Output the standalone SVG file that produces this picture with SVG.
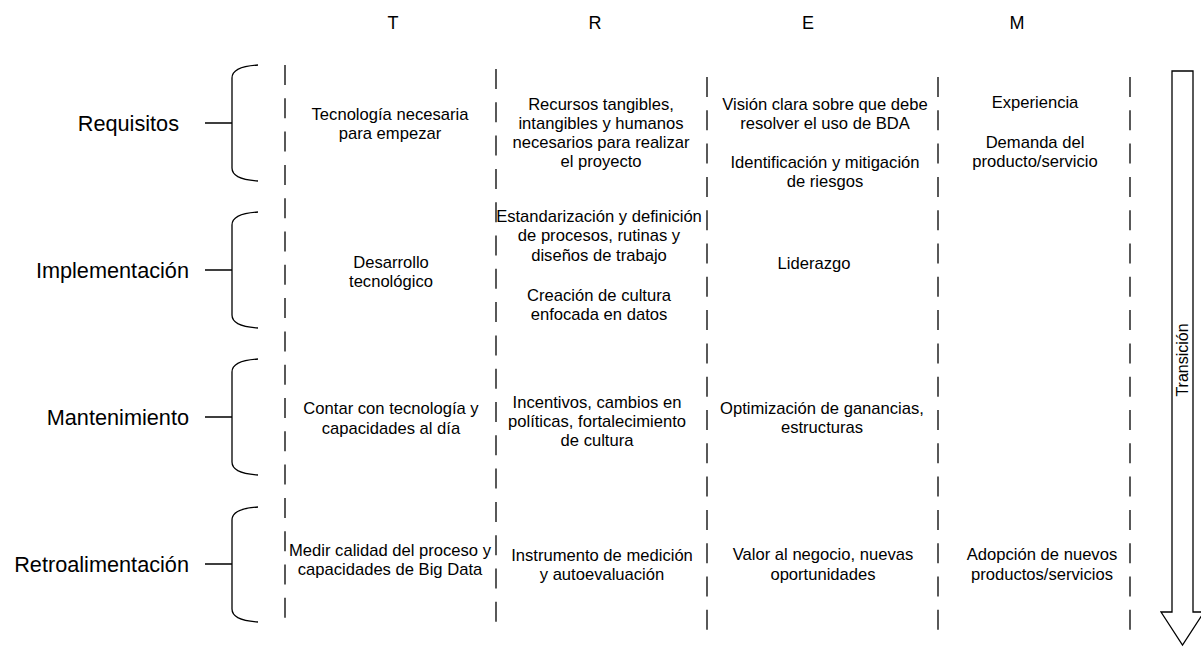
<svg xmlns="http://www.w3.org/2000/svg" width="1201" height="647" viewBox="0 0 1201 647">
<style>
text{font-family:"Liberation Sans",Arial,sans-serif;fill:#000}
.hd{font-size:18px;text-anchor:middle}
.lb{font-size:21.7px;text-anchor:end}
.c{font-size:16.6px;text-anchor:middle}
.ln{stroke:#000;stroke-width:1.3;fill:none}
.dash{stroke:#000;stroke-width:1.3;stroke-dasharray:20 13.3;fill:none}
</style>
<rect width="1201" height="647" fill="#fff"/>
<g id="headers">
<text class="hd" x="393" y="29">T</text>
<text class="hd" x="595" y="29">R</text>
<text class="hd" x="808" y="29">E</text>
<text class="hd" x="1017" y="29">M</text>
</g>
<g id="columns">
<line class="dash" x1="285" y1="65" x2="285" y2="618"/>
<line class="dash" x1="496" y1="69" x2="496" y2="622"/>
<line class="dash" x1="707" y1="77" x2="707" y2="630"/>
<line class="dash" x1="938" y1="77" x2="938" y2="630"/>
<line class="dash" x1="1130" y1="77" x2="1130" y2="630"/>
</g>
<g id="connectors">
<path class="ln" d="M258,65 C242,66 232,70 232,78 V168 C232,176 242,180 258,181 M205,123 H232"/>
<path class="ln" d="M258,212 C242,213 232,217 232,225 V315 C232,323 242,327 258,328 M205,270 H232"/>
<path class="ln" d="M258,359 C242,360 232,364 232,372 V462 C232,470 242,474 258,475 M205,417 H232"/>
<path class="ln" d="M258,507 C242,508 232,512 232,520 V609 C232,617 242,621 258,622 M205,564 H232"/>
</g>
<g id="label-requisitos"><text class="lb" x="179" y="131">Requisitos</text></g>
<g id="label-implementacion"><text class="lb" x="189" y="278">Implementación</text></g>
<g id="label-mantenimiento"><text class="lb" x="189" y="425">Mantenimiento</text></g>
<g id="label-retroalimentacion"><text class="lb" x="189" y="572">Retroalimentación</text></g>
<g id="req-T"><text class="c" x="390" y="120">Tecnología necesaria</text><text class="c" x="390" y="139">para empezar</text></g>
<g id="req-R"><text class="c" x="601" y="110">Recursos tangibles,</text><text class="c" x="601" y="129">intangibles y humanos</text><text class="c" x="601" y="148">necesarios para realizar</text><text class="c" x="601" y="167">el proyecto</text></g>
<g id="req-E"><text class="c" x="825" y="110">Visión clara sobre que debe</text><text class="c" x="825" y="129">resolver el uso de BDA</text><text class="c" x="825" y="168">Identificación y mitigación</text><text class="c" x="825" y="187">de riesgos</text></g>
<g id="req-M"><text class="c" x="1035" y="108">Experiencia</text><text class="c" x="1035" y="148">Demanda del</text><text class="c" x="1035" y="167">producto/servicio</text></g>
<g id="imp-T"><text class="c" x="391" y="268">Desarrollo</text><text class="c" x="391" y="287">tecnológico</text></g>
<g id="imp-R"><text class="c" x="599" y="222">Estandarización y definición</text><text class="c" x="599" y="241">de procesos, rutinas y</text><text class="c" x="599" y="261">diseños de trabajo</text><text class="c" x="599" y="301">Creación de cultura</text><text class="c" x="599" y="320">enfocada en datos</text></g>
<g id="imp-E"><text class="c" x="814" y="269">Liderazgo</text></g>
<g id="man-T"><text class="c" x="391" y="414">Contar con tecnología y</text><text class="c" x="391" y="434">capacidades al día</text></g>
<g id="man-R"><text class="c" x="597" y="408">Incentivos, cambios en</text><text class="c" x="597" y="427">políticas, fortalecimiento</text><text class="c" x="597" y="446">de cultura</text></g>
<g id="man-E"><text class="c" x="822" y="414">Optimización de ganancias,</text><text class="c" x="822" y="433">estructuras</text></g>
<g id="ret-T"><text class="c" x="390" y="556">Medir calidad del proceso y</text><text class="c" x="390" y="575">capacidades de Big Data</text></g>
<g id="ret-R"><text class="c" x="602" y="561">Instrumento de medición</text><text class="c" x="602" y="580">y autoevaluación</text></g>
<g id="ret-E"><text class="c" x="823" y="560">Valor al negocio, nuevas</text><text class="c" x="823" y="580">oportunidades</text></g>
<g id="ret-M"><text class="c" x="1042" y="560">Adopción de nuevos</text><text class="c" x="1042" y="580">productos/servicios</text></g>
<g id="transicion">
<path class="ln" style="fill:#fff" d="M1172,71 H1193 V612 H1204 L1182.5,645 L1161,612 H1172 Z"/>
<text x="0" y="0" font-size="16" text-anchor="middle" transform="translate(1188,360) rotate(-90)">Transición</text>
</g>
</svg>
